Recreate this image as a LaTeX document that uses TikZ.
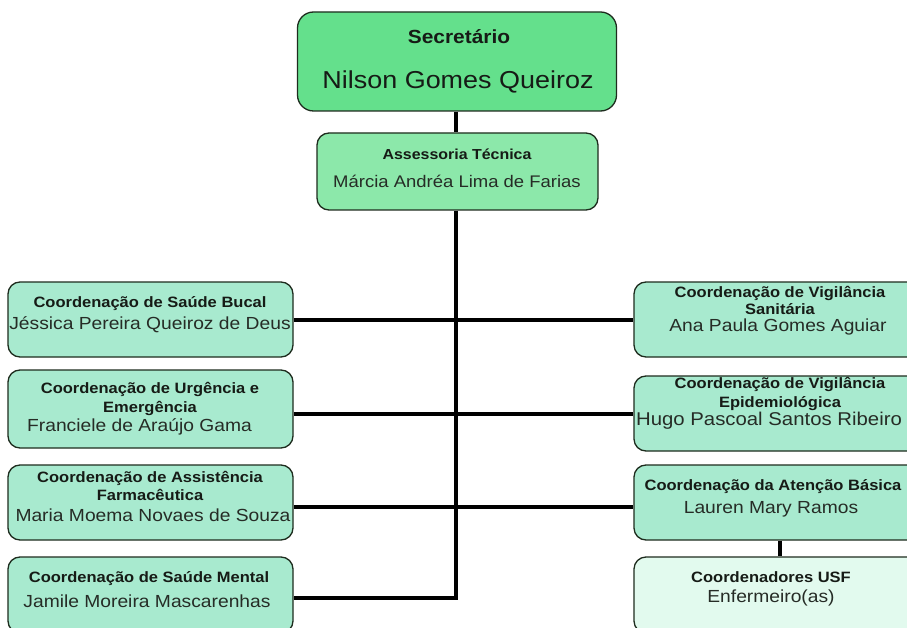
\documentclass[tikz,border=0pt]{standalone}
\usepackage{fontspec}
\setmainfont[FakeStretch=1.1]{Liberation Sans}
\definecolor{topg}{HTML}{64E08C}
\definecolor{assg}{HTML}{8CE8AA}
\definecolor{coordg}{HTML}{A8EACF}
\definecolor{usfg}{HTML}{E2FAEE}
\definecolor{boxline}{HTML}{1E2C1E}
\definecolor{txt}{HTML}{161B16}
\definecolor{txtn}{HTML}{262C26}
\begin{document}
\begin{tikzpicture}[x=1pt,y=-1pt,
  box/.style={draw=boxline, line width=1.3pt, rounded corners=12pt, inner sep=0pt},
  cbox/.style={box, fill=coordg, minimum width=285pt},
  hd/.style={font=\fontsize{15}{17}\selectfont\bfseries, text=txt, align=center, inner sep=0pt},
  nm/.style={font=\fontsize{17.5}{18}\selectfont, text=txtn, inner sep=0pt},
  conn/.style={line width=3.5pt, black}]
\useasboundingbox (0,0) rectangle (907,628);
\clip (0,0) rectangle (907,628);
\fill[white] (0,0) rectangle (907,628);

% top boxes
\node[box, fill=topg, rounded corners=16pt, minimum width=319pt, minimum height=99pt] (sec) at (457,61.5) {};
\node[box, fill=assg, minimum width=281pt, minimum height=77pt] (ass) at (457.5,171.5) {};

% left boxes
\node[cbox, minimum height=75pt] (L1) at (150.5,319.5) {};
\node[cbox, minimum height=78pt] (L2) at (150.5,409) {};
\node[cbox, minimum height=75pt] (L3) at (150.5,502.5) {};
\node[cbox, minimum height=76pt] (L4) at (150.5,595) {};

% right boxes
\node[cbox, minimum width=286pt, minimum height=75pt] (R1) at (777,319.5) {};
\node[cbox, minimum width=286pt, minimum height=75pt] (R2) at (777,413.5) {};
\node[cbox, minimum width=286pt, minimum height=75pt] (R3) at (777,502.5) {};
\node[box, fill=usfg, minimum width=286pt, minimum height=76pt] (R4) at (777,595) {};

% texts
\node[hd, font=\fontsize{19}{19}\selectfont\bfseries] (secT) at (459,37) {Secretário};
\node[nm, font=\fontsize{24.5}{25}\selectfont, text=txt] (secN) at (458,82) {Nilson Gomes Queiroz};
\node[hd, font=\fontsize{14.5}{14.5}\selectfont\bfseries] (assT) at (457,154) {Assessoria Técnica};
\node[nm, font=\fontsize{16.8}{17}\selectfont] (assN) at (457,181) {Márcia Andréa Lima de Farias};

\node[hd] (L1T) at (150,304) {Coordenação de Saúde Bucal};
\node[nm] (L1N) at (150,325) {Jéssica Pereira Queiroz de Deus};
\node[hd] (L2T) at (150,399) {Coordenação de Urgência e\\[2pt]Emergência};
\node[nm] (L2N) at (139.5,427) {Franciele de Araújo Gama};
\node[hd] (L3T) at (150,486) {Coordenação de Assistência\\[1pt]Farmacêutica};
\node[nm] (L3N) at (153,515) {Maria Moema Novaes de Souza};
\node[hd] (L4T) at (149,579) {Coordenação de Saúde Mental};
\node[nm] (L4N) at (147,601) {Jamile Moreira Mascarenhas};

\node[hd] (R1T) at (780,300.5) {Coordenação de Vigilância\\[0.5pt]Sanitária};
\node[nm] (R1N) at (778,327) {Ana Paula Gomes Aguiar};
\node[hd] (R2T) at (780,393.5) {Coordenação de Vigilância\\[2pt]Epidemiológica};
\node[nm, font=\fontsize{18.5}{19}\selectfont] (R2N) at (769,421) {Hugo Pascoal Santos Ribeiro};
\node[hd] (R3T) at (773,487) {Coordenação da Atenção Básica};
\node[nm] (R3N) at (771,509) {Lauren Mary Ramos};
\node[hd] (R4T) at (771,577) {Coordenadores USF};
\node[nm] (R4N) at (771,598) {Enfermeiro(as)};

% connectors
\coordinate (h1) at (456,320);
\coordinate (h2) at (456,414);
\coordinate (h3) at (456,507);
\coordinate (h4) at (456,598);
\coordinate (v5) at (780,0);
\draw[conn] (sec.south -| h1) -- (ass.north -| h1);
\draw[conn, line join=miter] (ass.south -| h1) -- (h4) -- (L4.east |- h4);
\draw[conn] (L1.east |- h1) -- (R1.west |- h1);
\draw[conn] (L2.east |- h2) -- (R2.west |- h2);
\draw[conn] (L3.east |- h3) -- (R3.west |- h3);
\draw[conn] (R3.south -| v5) -- (R4.north -| v5);
\end{tikzpicture}
\end{document}
